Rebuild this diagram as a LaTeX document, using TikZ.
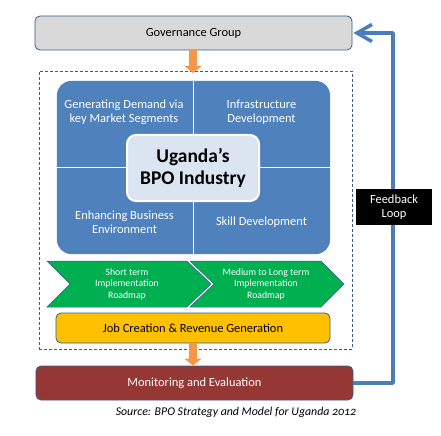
\documentclass[tikz,border=0pt]{standalone}
\usepackage{fontspec}
\setmainfont{Carlito}
\usetikzlibrary{arrows.meta}
\definecolor{edge}{HTML}{385D8A}
\definecolor{govfill}{HTML}{D9D9D9}
\definecolor{coreblue}{HTML}{4F81BD}
\definecolor{centerfill}{HTML}{DBE5F1}
\definecolor{chevgreen}{HTML}{00B050}
\definecolor{jobfill}{HTML}{FFC000}
\definecolor{monfill}{HTML}{953735}
\definecolor{loopblue}{HTML}{4A7EBB}
\definecolor{arrowor}{HTML}{F79646}
\begin{document}
\begin{tikzpicture}[x=1bp,y=-1bp,
  box/.style={draw=edge, line width=0.8bp, rounded corners=5bp, inner sep=0pt},
  lbl/.style={font=\fontsize{12.5}{14}\selectfont, align=center},
  smalllbl/.style={font=\fontsize{9.8}{11.5}\selectfont, align=center, text=white},
  flow/.style={draw=arrowor, line width=8bp, -{Triangle[width=17bp,length=7bp]}, color=arrowor},
  chev/.style={fill=chevgreen, draw=edge, line width=0.5bp}
]
\useasboundingbox (0,0) rectangle (441,436);

% dashed zone
\node[draw=edge, dashed, dash pattern=on 3bp off 2bp, line width=0.8bp, minimum width=313bp, minimum height=278bp, inner sep=0pt] (zone) at (195.5,210) {};

% governance
\node[box, fill=govfill, minimum width=317bp, minimum height=34bp, lbl] (gov) at (193.5,33) {Governance Group};

% core blue region
\node[fill=coreblue, rounded corners=14bp, minimum width=273bp, minimum height=173bp, inner sep=0pt] (core) at (193.5,167.5) {};
\draw[white, line width=1bp] (core.north) -- (core.south);
\draw[white, line width=1bp] (core.west) -- (core.east);

\node[lbl, text=white] (q1) at (124,112) {Generating Demand via\\key Market Segments};
\node[lbl, text=white] (q2) at (261.5,112) {Infrastructure\\Development};
\node[lbl, text=white] (q3) at (124.5,222) {Enhancing Business\\Environment};
\node[lbl, text=white] (q4) at (261.5,222) {Skill Development};

\node[fill=centerfill, draw=white, line width=2bp, rounded corners=9bp, minimum width=132bp, minimum height=66bp, inner sep=0pt, align=center, font=\bfseries\fontsize{19.5}{22}\selectfont] (center) at (193,168) {Uganda’s\\BPO Industry};

% chevrons
\draw[chev] (47,261) -- (187,261) -- (211,284) -- (187,307) -- (47,307) -- (70,284) -- cycle;
\draw[chev] (190,261) -- (321,261) -- (344,284) -- (321,307) -- (190,307) -- (214,284) -- cycle;
\node[smalllbl] (c1) at (127,284) {Short term\\Implementation\\Roadmap};
\node[smalllbl] (c2) at (266,284) {Medium to Long term\\Implementation\\Roadmap};

% job creation
\node[box, fill=jobfill, minimum width=274bp, minimum height=30bp, lbl] (job) at (193,328) {Job Creation \& Revenue Generation};

% monitoring
\node[box, fill=monfill, minimum width=317bp, minimum height=34bp, lbl, text=white] (mon) at (194.5,383) {Monitoring and Evaluation};

% orange flow arrows
\draw[flow] (gov.south -| 193,0) -- (193,73);
\draw[flow] (193,343) -- (mon.north -| 193,0);

% feedback loop
\coordinate (fr) at (393,0);
\draw[loopblue, line width=3.5bp, line join=round, -{Straight Barb[length=15bp,width=17bp,line width=3.5bp]}] (mon.east) -- (mon.east -| fr) -- (gov.east -| fr) -- ([xshift=1bp]gov.east);
\node[fill=black, minimum width=76bp, minimum height=36bp, inner sep=0pt, lbl, text=white] (fb) at (394,207) {Feedback\\Loop};

% source
\node[font=\itshape\fontsize{11.9}{14}\selectfont] (src) at (236,412) {Source: BPO Strategy and Model for Uganda {\addfontfeatures{Numbers=OldStyle}2012}};
\end{tikzpicture}
\end{document}
